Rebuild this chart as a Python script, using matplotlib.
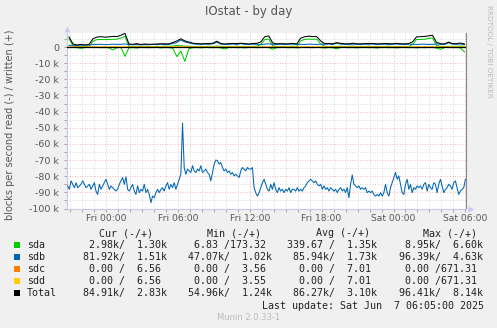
import numpy as np
import matplotlib.pyplot as plt
from matplotlib.patches import Rectangle
from matplotlib.ticker import MultipleLocator, FuncFormatter

# значения в тысячах блоков в секунду
# sdb чтение (отрисовывается вниз), шаг ~8 мин
sdb_read = [86.0, 88.1, 82.9, 85.0, 87.1, 84.0, 87.1, 86.0, 85.0, 82.9,
            85.0, 87.1, 86.0, 85.0, 88.1, 86.0, 84.0, 89.2, 91.3, 85.0,
            88.1, 86.0, 84.0, 81.9, 85.0, 88.1, 86.0, 87.1, 88.1, 89.2,
            88.1, 85.0, 82.9, 80.8, 85.0, 80.4, 88.1, 89.2, 87.1, 85.0,
            89.2, 91.3, 86.0, 90.2, 88.1, 89.2, 85.0, 90.2, 88.1, 91.3,
            96.4, 92.3, 93.3, 90.2, 88.1, 90.2, 88.1, 87.1, 89.2, 86.0,
            84.0, 88.1, 85.0, 87.1, 84.0, 88.1, 85.0, 81.9, 78.8, 47.1,
            74.6, 78.8, 75.6, 76.7, 77.7, 73.5, 76.7, 77.7, 75.6, 76.7,
            73.5, 77.7, 76.7, 75.6, 77.7, 78.8, 82.9, 77.7, 72.5, 70.0,
            70.4, 72.5, 71.5, 74.6, 76.7, 75.6, 77.7, 76.7, 78.8, 77.7,
            79.8, 78.8, 79.8, 80.8, 76.7, 74.6, 75.6, 76.7, 74.6, 75.6,
            75.6, 74.6, 87.1, 90.2, 92.3, 90.2, 87.1, 84.0, 81.9, 85.0,
            88.1, 89.2, 85.0, 88.1, 84.0, 88.1, 90.2, 87.1, 89.2, 88.1,
            90.2, 88.1, 89.2, 87.1, 90.2, 88.1, 88.1, 89.2, 87.1, 89.2,
            88.1, 89.2, 87.1, 86.0, 84.0, 82.9, 81.9, 82.9, 84.0, 82.9,
            85.0, 86.0, 85.0, 88.1, 86.0, 88.1, 87.1, 89.2, 87.1, 88.1,
            89.2, 88.1, 90.2, 88.1, 87.1, 89.2, 88.1, 90.2, 87.1, 93.3,
            85.0, 79.2, 85.0, 86.0, 87.1, 86.0, 88.1, 87.1, 88.1, 87.1,
            90.2, 89.2, 90.2, 89.2, 91.3, 92.3, 91.3, 92.3, 90.2, 92.3,
            90.2, 85.0, 90.2, 92.3, 87.1, 84.0, 80.8, 77.7, 81.9, 79.8,
            85.0, 90.2, 91.3, 85.0, 81.9, 88.1, 85.0, 90.2, 87.1, 88.1,
            86.0, 87.1, 86.0, 88.1, 85.0, 84.0, 89.2, 85.0, 87.1, 88.1,
            84.0, 85.0, 90.2, 85.0, 81.9, 86.0, 90.2, 88.1, 87.1, 85.0,
            86.0, 88.1, 84.0, 82.9, 87.1, 91.3, 89.2, 88.1, 87.1, 81.9]

# шаг 20 мин
sda_write = [5.2, 0.8, 0.3, 0.4, 0.2, 0.3, 3.6, 4.6, 4.7, 4.6,
             4.7, 4.8, 4.9, 5.6, 6.6, 0.4, 0.3, 0.5, 0.3, 0.4,
             0.3, 0.2, 0.4, 0.3, 0.5, 0.4, 0.6, 1.0, 0.8, 0.6,
             0.5, 0.4, 0.3, 0.4, 0.3, 0.5, 0.3, 0.6, 0.4, 0.3,
             0.4, 0.3, 0.5, 0.3, 0.4, 0.3, 0.4, 0.6, 1.5, 4.6,
             4.9, 0.8, 0.4, 0.3, 0.4, 0.3, 0.5, 0.3, 3.8, 4.8,
             4.9, 4.8, 4.9, 2.0, 0.4, 0.3, 0.4, 0.3, 0.5, 0.3,
             0.4, 0.6, 0.3, 0.4, 0.3, 0.5, 0.3, 0.4, 0.3, 0.4,
             0.5, 0.3, 0.4, 0.3, 0.4, 0.3, 1.5, 4.7, 4.7, 4.8,
             5.3, 5.6, 1.0, 0.4, 0.3, 0.5, 0.3, 0.4, 0.6, 0.4]
sda_read = [0.3, 0.2, 0.4, 0.8, 0.3, 0.2, 0.3, 0.2, 0.4, 0.3,
            0.5, 1.8, 0.4, 0.3, 5.8, 0.5, 0.3, 0.6, 0.2, 0.3,
            0.4, 0.3, 0.2, 0.5, 0.3, 0.4, 0.8, 5.9, 2.5, 8.9,
            1.0, 0.4, 0.3, 0.5, 0.2, 0.3, 0.4, 0.3, 0.5, 1.2,
            0.3, 0.2, 0.4, 0.3, 0.5, 0.3, 0.2, 0.4, 0.3, 0.2,
            0.3, 1.3, 0.4, 0.3, 0.2, 0.4, 0.3, 0.5, 0.3, 0.2,
            0.3, 0.4, 0.2, 0.3, 0.6, 0.3, 0.4, 1.1, 0.3, 0.2,
            0.4, 0.3, 0.5, 0.3, 0.2, 0.4, 0.3, 0.6, 0.3, 0.2,
            0.4, 0.3, 0.5, 0.3, 0.2, 0.4, 0.3, 0.5, 0.3, 0.4,
            0.2, 0.3, 0.6, 1.4, 0.3, 0.2, 0.4, 0.3, 0.5, 3.0]
sdb_write = [1.0, 1.1, 1.0, 1.2, 1.1, 1.3, 1.5, 1.6, 1.7, 1.5,
             1.6, 1.8, 1.6, 1.7, 1.9, 1.5, 1.4, 1.6, 1.3, 1.5,
             1.4, 1.6, 1.5, 1.7, 1.5, 1.6, 2.2, 2.8, 4.3, 3.2,
             2.6, 2.0, 1.8, 1.6, 1.8, 1.7, 2.0, 3.0, 1.8, 1.6,
             1.7, 1.9, 1.6, 2.1, 1.7, 1.6, 1.8, 1.7, 1.6, 1.8,
             2.0, 1.7, 1.6, 1.8, 1.6, 1.7, 1.8, 1.6, 1.7, 1.6,
             1.8, 1.7, 1.6, 1.8, 1.7, 1.9, 1.6, 2.4, 1.8, 1.7,
             1.6, 1.8, 1.7, 1.6, 1.8, 1.7, 1.9, 1.6, 1.7, 1.8,
             1.6, 1.7, 1.9, 1.7, 1.6, 1.8, 1.7, 1.6, 1.7, 1.8,
             1.6, 1.7, 1.9, 1.7, 1.6, 2.6, 1.8, 1.7, 1.9, 1.5]
# sdc / sdd почти нулевые
sdc_write = [0.007, 0.006, 0.007, 0.007, 0.006, 0.007, 0.007, 0.006, 0.007, 0.007]
sdd_write = [0.007, 0.006, 0.007, 0.007, 0.006, 0.007, 0.007, 0.006, 0.007, 0.007]

tick_hours = [0, 6, 12, 18, 24, 30]
tick_labels = ['Fri 00:00', 'Fri 06:00', 'Fri 12:00', 'Fri 18:00', 'Sat 00:00', 'Sat 06:00']

names = ['sda', 'sdb', 'sdc', 'sdd', 'Total']
colors = ['#00cc00', '#0066b3', '#ff8000', '#ffcc00', '#000000']
cur_r = [2980, 81920, 0, 0, 84910]
cur_w = [1300, 1510, 6.56, 6.56, 2830]
min_r = [6.83, 47070, 0, 0, 54960]
min_w = [173.32, 1020, 3.56, 3.55, 1240]
avg_r = [339.67, 85940, 0, 0, 86270]
avg_w = [1350, 1730, 7.01, 7.01, 3100]
max_r = [8950, 96390, 0, 0, 96410]
max_w = [6600, 4630, 671.31, 671.31, 8140]

W, H = 497, 328
fig = plt.figure(figsize=(W / 100, H / 100), dpi=100, facecolor='#f0f0f0')
ax = fig.add_axes([67 / W, 119 / H, 399 / W, 176 / H], facecolor='white')

t_sdb = np.linspace(-3.19, 30.0, len(sdb_read))
t20 = np.linspace(-3.08, 29.92, len(sda_write))
t_small = np.linspace(-3.2, 30.0, len(sdc_write))

sda_w = np.array(sda_write) * 1000
sdb_w = np.array(sdb_write) * 1000
total_w = sda_w + sdb_w

lw = 0.75
ax.plot(t20, -np.array(sda_read) * 1000, color=colors[0], lw=lw, zorder=3)
ax.plot(t20, sda_w, color=colors[0], lw=lw, zorder=3)
ax.plot(t_sdb, -np.array(sdb_read) * 1000, color=colors[1], lw=lw, zorder=4)
ax.plot(t20, sdb_w, color=colors[1], lw=lw, zorder=4)
ax.plot(t_small, np.array(sdc_write) * 1000, color=colors[2], lw=lw, zorder=5)
ax.plot(t_small, np.array(sdd_write) * 1000, color=colors[3], lw=lw, zorder=5)
ax.plot(t20, total_w, color='black', lw=lw, zorder=6)
ax.axhline(0, color='black', lw=0.9, zorder=7)

ax.set_xlim(-3.25, 30.05)
ax.set_ylim(-100300, 8700)

# сетка
ax.xaxis.set_major_locator(MultipleLocator(6))
ax.xaxis.set_minor_locator(MultipleLocator(1))
ax.yaxis.set_major_locator(MultipleLocator(10000))
ax.yaxis.set_minor_locator(MultipleLocator(5000))
ax.set_xticks(tick_hours)
ax.set_xticklabels(tick_labels)
ax.yaxis.set_major_formatter(FuncFormatter(lambda v, p: '0' if v == 0 else '%d k' % round(v / 1000)))
ax.grid(which='minor', color='#cccccc', ls=(0, (1, 2)), lw=0.6, zorder=1)
ax.grid(which='major', color='#f4a0a0', ls=(0, (1, 2)), lw=0.6, zorder=2)
ax.set_axisbelow(True)

ax.tick_params(which='both', length=2, width=0.6, color='#999999', labelsize=6.8, labelcolor='#555555')
ax.tick_params(axis='y', pad=3.5)
ax.tick_params(axis='x', pad=1.5, labelsize=6.6)

for s in ['left', 'bottom']:
    ax.spines[s].set_color('#c8c8ee')
    ax.spines[s].set_linewidth(0.8)
ax.spines['top'].set_visible(False)
ax.spines['right'].set_color('#888888')
ax.spines['right'].set_linewidth(0.8)
ax.plot([0], [1.025], marker='^', ms=4.5, color='#c8c8f4', mec='none', transform=ax.transAxes, clip_on=False)
ax.plot([1.012], [0], marker='>', ms=4.5, color='#c8c8f4', mec='none', transform=ax.transAxes, clip_on=False)

fig.text(249 / W, 1 - 12 / H, 'IOstat - by day', ha='center', va='center', fontsize=8.5, color='#555555')
fig.text(10 / W, 1 - 125 / H, 'blocks per second read (-) / written (+)', rotation=90,
         ha='center', va='center', fontsize=7, color='#555555')
fig.text(488.5 / W, 1 - 51 / H, 'RRDTOOL / TOBI OETIKER', rotation=270, ha='center', va='center',
         fontsize=5.2, color='#bbbbbb')


def fmt(v):
    if v >= 1000:
        return '%6.2fk' % (v / 1000)
    return '%6.2f ' % v


mono = dict(family='DejaVu Sans Mono', fontsize=7.2, color='#222222', va='center')
for hx, h in zip([99, 207.3, 315.7, 423.3], ['Cur (-/+)', 'Min (-/+)', 'Avg (-/+)', 'Max (-/+)']):
    fig.text(hx / W, 1 - 233.3 / H, h, **mono)

row_y = [245.3, 257.3, 269.3, 281.3, 293.3]
col_x = [77.3, 182.3, 287.3, 393]
for i, name in enumerate(names):
    y = 1 - row_y[i] / H
    fig.add_artist(Rectangle((14 / W, y - 3 / H), 6 / W, 6 / H, transform=fig.transFigure,
                             facecolor=colors[i], edgecolor='none'))
    fig.text(26.7 / W, y, name, **mono)
    pairs = [(cur_r, cur_w), (min_r, min_w), (avg_r, avg_w), (max_r, max_w)]
    for cx, (r, w) in zip(col_x, pairs):
        fig.text(cx / W, y, fmt(r[i]) + '/' + fmt(w[i]), **mono)

fig.text(261.7 / W, 1 - 305.7 / H, 'Last update: Sat Jun  7 06:05:00 2025', **mono)
fig.text(249 / W, 1 - 317.3 / H, 'Munin 2.0.33-1', ha='center', va='center', fontsize=6, color='#bbbbbb')

fig.savefig('out.png', dpi=100, facecolor=fig.get_facecolor())
